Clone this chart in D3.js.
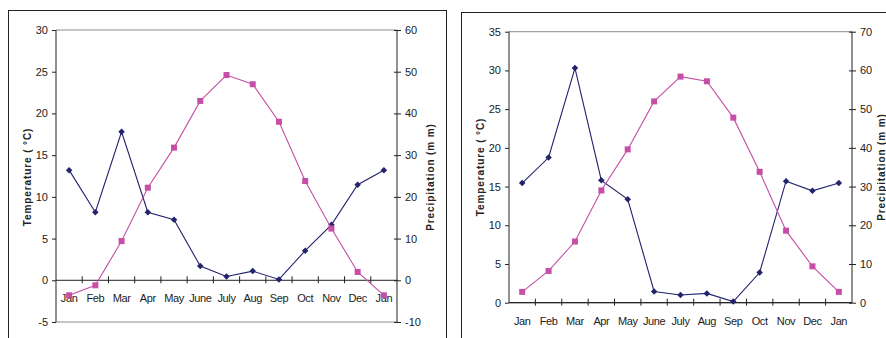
<!DOCTYPE html>
<html>
<head>
<meta charset="utf-8">
<script src="https://cdn.jsdelivr.net/npm/d3@7"></script>
<style>
  html, body { margin: 0; padding: 0; background: #fff; }
  svg { display: block; }
  text { font-family: "Liberation Sans", Arial, sans-serif; fill: #222; }
</style>
</head>
<body>
<svg id="chart" width="886" height="338"></svg>
<script>
// ---- data ----
const months = ["Jan","Feb","Mar","Apr","May","June","July","Aug","Sep","Oct","Nov","Dec","Jan"];

// left chart
const temp1   = [-1.8, -0.6, 4.7, 11.1, 15.9, 21.5, 24.6, 23.5, 19.0, 11.9, 6.2, 1.0, -1.8];
const precip1 = [26.4, 16.3, 35.6, 16.3, 14.5, 3.4, 0.9, 2.2, 0.2, 7.1, 13.3, 22.9, 26.4];
const tempTicks1   = [-5, 0, 5, 10, 15, 20, 25, 30];
const precipTicks1 = [-10, 0, 10, 20, 30, 40, 50, 60];

// right chart
const temp2   = [1.4, 4.1, 7.9, 14.5, 19.8, 26.0, 29.2, 28.6, 23.9, 16.9, 9.3, 4.7, 1.4];
const precip2 = [30.9, 37.5, 60.6, 31.6, 26.7, 2.9, 2.0, 2.4, 0.3, 7.8, 31.4, 28.9, 30.9];
const tempTicks2   = [0, 5, 10, 15, 20, 25, 30, 35];
const precipTicks2 = [0, 10, 20, 30, 40, 50, 60, 70];

const tempTitle = "Temperature ( °C)";
const precipTitle = "Precipitation (m m)";

const svg = d3.select("#chart");
const PINK = "#c64ea6", NAVY = "#22226e", AXIS = "#222", GRID = "#8c8c8c";
const fmt = d => String(d); // plain hyphen-minus like the reference

// frames
svg.append("rect").attr("x", 8.5).attr("y", 10.5).attr("width", 438).attr("height", 340)
  .attr("fill", "none").attr("stroke", "#222").attr("stroke-width", 1);
svg.append("rect").attr("x", 461.5).attr("y", 12.5).attr("width", 440).attr("height", 340)
  .attr("fill", "none").attr("stroke", "#222").attr("stroke-width", 1);

function drawChart(cfg) {
  const g = svg.append("g");
  const x = d3.scaleBand().domain(d3.range(months.length)).range([cfg.left, cfg.right]);
  const yL = d3.scaleLinear().domain(d3.extent(cfg.tempTicks)).range([cfg.bottom, cfg.top]);
  const yR = d3.scaleLinear().domain(d3.extent(cfg.precipTicks)).range([cfg.bottom, cfg.top]);
  const y0 = yL(0);

  // plot-area border top/bottom
  g.append("line").attr("x1", cfg.left).attr("x2", cfg.right)
    .attr("y1", yL(d3.max(cfg.tempTicks))).attr("y2", yL(d3.max(cfg.tempTicks)))
    .attr("stroke", GRID).attr("stroke-width", 1);
  g.append("line").attr("x1", cfg.left).attr("x2", cfg.right)
    .attr("y1", yL(d3.min(cfg.tempTicks))).attr("y2", yL(d3.min(cfg.tempTicks)))
    .attr("stroke", d3.min(cfg.tempTicks) === 0 ? AXIS : GRID).attr("stroke-width", 1);

  // left axis
  const axL = d3.axisLeft(yL).tickValues(cfg.tempTicks).tickFormat(fmt).tickSize(4).tickPadding(4);
  const gL = g.append("g").attr("transform", `translate(${cfg.left},0)`).call(axL);
  // right axis
  const axR = d3.axisRight(yR).tickValues(cfg.precipTicks).tickFormat(fmt).tickSize(4).tickPadding(4);
  const gR = g.append("g").attr("transform", `translate(${cfg.right},0)`).call(axR);
  [gL, gR].forEach(a => {
    a.select(".domain").remove();
    a.selectAll(".tick line").attr("stroke", AXIS);
    a.selectAll(".tick text").attr("font-size", 11).attr("fill", "#222")
      .attr("font-family", "'Liberation Sans', Arial, sans-serif");
  });
  g.append("line").attr("x1", cfg.left).attr("x2", cfg.left).attr("y1", cfg.top).attr("y2", cfg.bottom)
    .attr("stroke", AXIS);
  g.append("line").attr("x1", cfg.right).attr("x2", cfg.right).attr("y1", cfg.top).attr("y2", cfg.bottom)
    .attr("stroke", AXIS);
  gR.selectAll(".tick line").attr("x1", -3);

  // x axis at zero
  g.append("line").attr("x1", cfg.left).attr("x2", cfg.right).attr("y1", y0).attr("y2", y0)
    .attr("stroke", AXIS);
  const bounds = d3.range(1, months.length).map(i => x(i));
  g.selectAll(".xt").data(bounds).join("line")
    .attr("x1", d => d).attr("x2", d => d).attr("y1", y0 - 4).attr("y2", y0 + 3)
    .attr("stroke", AXIS);
  g.selectAll(".xl").data(months).join("text")
    .attr("x", (d, i) => x(i) + x.bandwidth() / 2).attr("y", cfg.labelY)
    .attr("text-anchor", "middle").attr("font-size", 11).attr("letter-spacing", -0.4)
    .text(d => d);

  // titles
  g.append("text").attr("transform", `translate(${cfg.ltx},${cfg.ty}) rotate(-90)`)
    .attr("text-anchor", "middle").attr("font-size", 10).attr("font-weight", "bold")
    .attr("letter-spacing", 0.9).text(tempTitle);
  g.append("text").attr("transform", `translate(${cfg.rtx},${cfg.ty}) rotate(-90)`)
    .attr("text-anchor", "middle").attr("font-size", 10).attr("font-weight", "bold")
    .attr("letter-spacing", 0.9).text(precipTitle);

  const cx = i => x(i) + x.bandwidth() / 2;
  // precipitation (navy diamonds)
  g.append("path").datum(cfg.precip)
    .attr("d", d3.line().x((d, i) => cx(i)).y(d => yR(d)))
    .attr("fill", "none").attr("stroke", NAVY).attr("stroke-width", 1.1);
  g.selectAll(".pd").data(cfg.precip).join("rect")
    .attr("x", -2.3).attr("y", -2.3).attr("width", 4.6).attr("height", 4.6)
    .attr("transform", (d, i) => `translate(${cx(i)},${yR(d)}) rotate(45)`)
    .attr("fill", NAVY);
  // temperature (pink squares)
  g.append("path").datum(cfg.temp)
    .attr("d", d3.line().x((d, i) => cx(i)).y(d => yL(d)))
    .attr("fill", "none").attr("stroke", PINK).attr("stroke-width", 1.1);
  g.selectAll(".ts").data(cfg.temp).join("rect")
    .attr("x", (d, i) => cx(i) - 3).attr("y", d => yL(d) - 3)
    .attr("width", 6).attr("height", 6).attr("fill", PINK);
}

drawChart({ left: 56, right: 397, top: 30, bottom: 322,
  tempTicks: tempTicks1, precipTicks: precipTicks1, temp: temp1, precip: precip1,
  labelY: 302, ltx: 31, rtx: 434, ty: 177 });
drawChart({ left: 509, right: 852, top: 31.7, bottom: 302.7,
  tempTicks: tempTicks2, precipTicks: precipTicks2, temp: temp2, precip: precip2,
  labelY: 325, ltx: 484, rtx: 885, ty: 167 });
</script>
</body>
</html>
